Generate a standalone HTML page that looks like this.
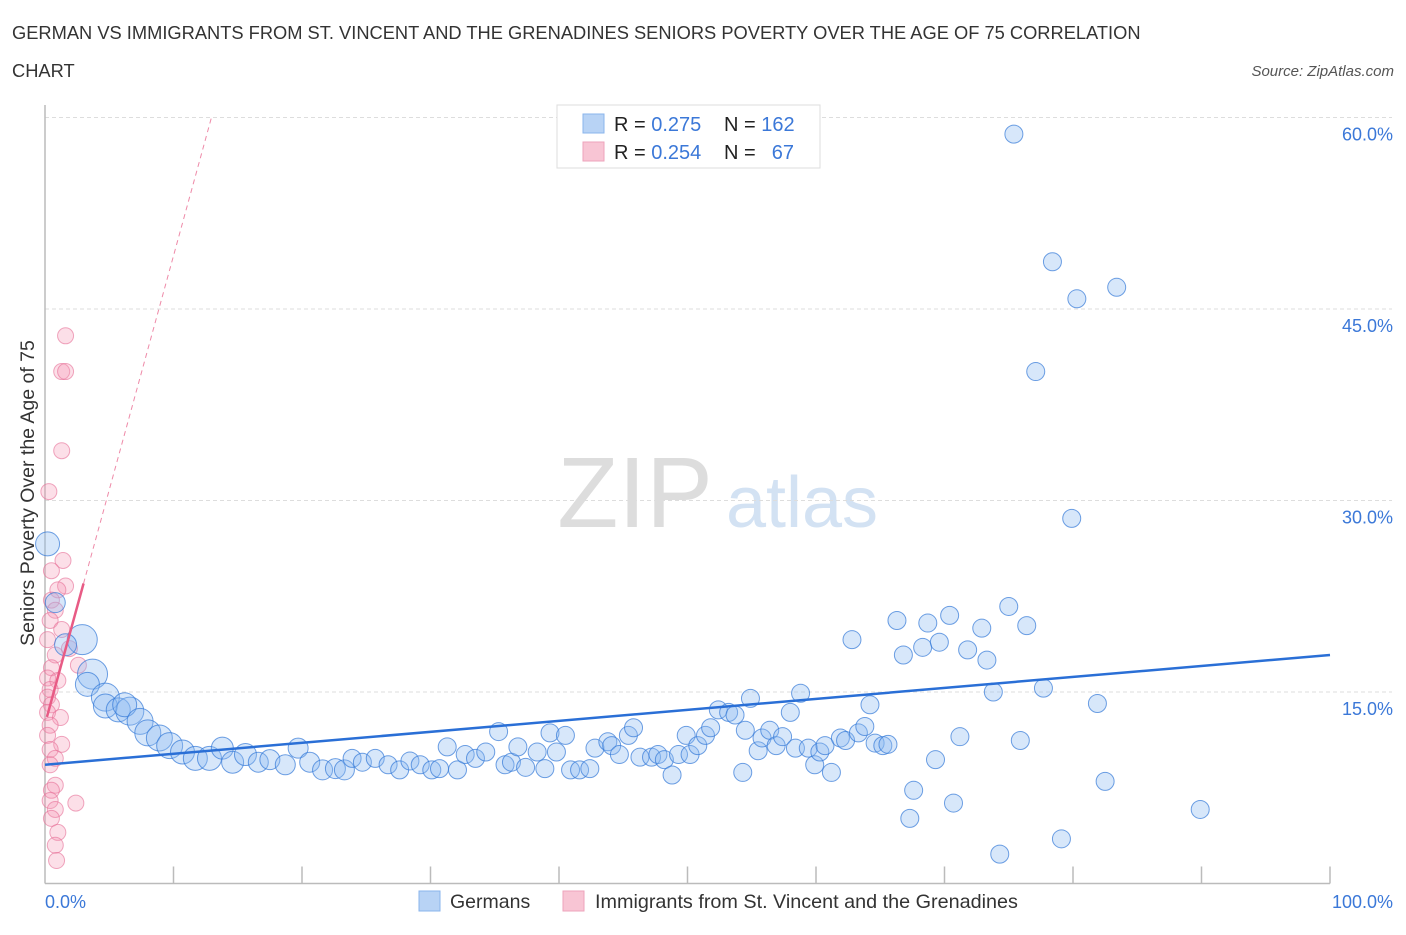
<!DOCTYPE html>
<html><head><meta charset="utf-8">
<style>
body{margin:0;background:#fff;font-family:"Liberation Sans",sans-serif;}
svg text{font-family:"Liberation Sans",sans-serif;}
</style></head>
<body>
<svg id="chart" width="1406" height="930" viewBox="0 0 1406 930">
<text x="12" y="39" font-size="18.3" fill="#333">GERMAN VS IMMIGRANTS FROM ST. VINCENT AND THE GRENADINES SENIORS POVERTY OVER THE AGE OF 75 CORRELATION</text>
<text x="12" y="77" font-size="18.3" fill="#333">CHART</text>
<text x="1394" y="76" font-size="15" fill="#555" font-style="italic" text-anchor="end">Source: ZipAtlas.com</text>
<g>
<text x="635" y="527" font-size="100" fill="#ddd" font-family="Liberation Serif" text-anchor="middle">ZIP</text>
<text x="802" y="527" font-size="72" fill="#d3e2f3" text-anchor="middle">atlas</text>
</g>
<g id="grid"></g>
<g id="axes"></g>
<g id="pink"></g>
<g id="blue"></g>
<g id="trends"></g>
<text transform="translate(34,493) rotate(-90)" font-size="19.5" fill="#333" text-anchor="middle">Seniors Poverty Over the Age of 75</text>
<g>
<rect x="557" y="105" width="263" height="63" fill="#fff" stroke="#ddd"/>
<rect x="583" y="114" width="21" height="19" fill="#b8d3f5" stroke="#8ab4ec"/>
<rect x="583" y="142" width="21" height="19" fill="#f8c5d4" stroke="#eea3bb"/>
<text x="614" y="131" font-size="20" fill="#222">R = <tspan fill="#3b78d8">0.275</tspan></text>
<text x="724" y="131" font-size="20" fill="#222">N = <tspan fill="#3b78d8">162</tspan></text>
<text x="614" y="159" font-size="20" fill="#222">R = <tspan fill="#3b78d8">0.254</tspan></text>
<text x="724" y="159" font-size="20" fill="#222">N = </text>
<text x="794" y="159" font-size="20" fill="#3b78d8" text-anchor="end">67</text>
</g>
<g>
<rect x="419" y="891" width="21" height="20" fill="#b8d3f5" stroke="#8ab4ec"/>
<text x="450" y="908" font-size="19.5" fill="#333">Germans</text>
<rect x="563" y="891" width="21" height="20" fill="#f8c5d4" stroke="#eea3bb"/>
<text x="595" y="908" font-size="19.8" fill="#333">Immigrants from St. Vincent and the Grenadines</text>
</g>
</svg>
<script>
const yTicks=[15,30,45,60];
const xTickVals=[0,10,20,30,40,50,60,70,80,90,100];
const blueX=[75.4,78.4,80.3,83.4,77.1,79.9,0.2,0.8,2.9,1.6,3.7,3.3,4.7,4.7,5.7,6.6,6.2,7.4,8.0,8.9,9.7,10.7,11.7,12.8,13.8,14.6,15.6,16.6,17.5,18.7,19.7,20.6,21.6,22.6,23.3,23.9,24.7,25.7,26.7,27.6,28.4,29.2,30.1,30.7,31.3,32.1,32.7,33.5,34.3,35.3,35.8,36.3,36.8,37.4,38.3,38.9,39.3,39.8,40.5,40.9,41.6,42.4,42.8,43.8,44.1,44.7,45.4,45.8,46.3,47.2,47.7,48.2,48.8,49.3,49.9,50.2,50.8,51.4,51.8,52.4,53.2,53.7,54.3,54.5,54.9,55.5,55.8,56.4,56.9,57.4,58.0,58.4,58.8,59.4,59.9,60.3,60.7,61.2,61.9,62.3,62.8,63.3,63.8,64.2,64.6,65.2,65.6,66.3,66.8,67.3,67.6,68.3,68.7,69.3,69.6,70.4,70.7,71.2,71.8,72.9,73.3,73.8,74.3,75.0,75.9,76.4,77.7,79.1,81.9,82.5,89.9];
const blueY=[58.7,48.7,45.8,46.7,40.1,28.6,26.6,22.0,19.1,18.7,16.4,15.6,14.6,13.9,13.6,13.5,14.0,12.7,11.8,11.4,10.8,10.3,9.8,9.8,10.6,9.5,10.1,9.5,9.7,9.3,10.6,9.5,8.9,9.0,8.9,9.8,9.5,9.8,9.3,8.9,9.6,9.3,8.9,9.0,10.7,8.9,10.1,9.8,10.3,11.9,9.3,9.5,10.7,9.1,10.3,9.0,11.8,10.3,11.6,8.9,8.9,9.0,10.6,11.1,10.8,10.1,11.6,12.2,9.9,9.9,10.1,9.7,8.5,10.1,11.6,10.1,10.8,11.6,12.2,13.6,13.4,13.2,8.7,12.0,14.5,10.4,11.4,12.0,10.8,11.5,13.4,10.6,14.9,10.6,9.3,10.3,10.8,8.7,11.4,11.2,19.1,11.8,12.3,14.0,11.0,10.8,10.9,20.6,17.9,5.1,7.3,18.5,20.4,9.7,18.9,21.0,6.3,11.5,18.3,20.0,17.5,15.0,2.3,21.7,11.2,20.2,15.3,3.5,14.1,8.0,5.8];
const blueR=[9,9,9,9,9,9,12,10,15,11,15,12,14,12,12,14,12,13,13,13,13,12,12,12,11,11,11,10,10,10,10,10,10,10,10,9,9,9,9,9,9,9,9,9,9,9,9,9,9,9,9,9,9,9,9,9,9,9,9,9,9,9,9,9,9,9,9,9,9,9,9,9,9,9,9,9,9,9,9,9,9,9,9,9,9,9,9,9,9,9,9,9,9,9,9,9,9,9,9,9,9,9,9,9,9,9,9,9,9,9,9,9,9,9,9,9,9,9,9,9,9,9,9,9,9,9,9,9,9,9,9,9];
const pinkX=[1.6,1.3,1.6,1.3,0.3,1.4,0.5,1.6,1.0,0.5,0.8,0.4,1.3,0.2,1.9,0.8,2.6,0.5,0.2,1.0,0.4,0.2,0.5,0.2,1.2,0.4,0.2,1.3,0.4,0.8,0.4,0.8,0.5,2.4,0.4,0.8,0.5,1.0,0.8,0.9];
const pinkY=[42.9,40.1,40.1,33.9,30.7,25.3,24.5,23.3,23.0,22.2,21.4,20.6,19.9,19.1,18.4,17.9,17.1,16.9,16.1,15.9,15.2,14.6,14.0,13.4,13.0,12.4,11.6,10.9,10.5,9.8,9.3,7.7,7.3,6.3,6.5,5.8,5.1,4.0,3.0,1.8];
const blueTrend=[9.3,17.9];
const pinkTrend=[12.5,23.5];
const X0=45,X1=1330,YTOP=117.5,YBOT=883.5;
function sx(v){return X0+(X1-X0)*v/100;}
function sy(v){return YBOT-(YBOT-YTOP)*v/60;}
const NS="http://www.w3.org/2000/svg";
function mk(tag,attrs,parent){const e=document.createElementNS(NS,tag);for(const k in attrs)e.setAttribute(k,attrs[k]);parent.appendChild(e);return e;}
const grid=document.getElementById('grid'),axes=document.getElementById('axes');
yTicks.forEach(t=>{
 const l=mk('line',{x1:45,x2:1392,y1:sy(t),y2:sy(t),stroke:'#ddd','stroke-dasharray':'4,3'},grid);
 
 
 const tx=mk('text',{x:1393,y:sy(t)+23,'font-size':18,fill:'#3b78d8','text-anchor':'end'},axes);
 tx.textContent=t.toFixed(1)+'%';
 
 
});
const ax=mk('line',{x1:45,x2:1330,y1:YBOT,y2:YBOT,stroke:'#bbb','stroke-width':1.5},axes);


const ay=mk('line',{x1:45,x2:45,y1:105,y2:YBOT,stroke:'#bbb','stroke-width':1.5},axes);


xTickVals.forEach(t=>{
 if(t===0)return;
 const l=mk('line',{x1:sx(t),x2:sx(t),y1:YBOT-17,y2:YBOT,stroke:'#bbb','stroke-width':1.5},axes);
 
 
});
[[0,'start',45],[100,'end',1393]].forEach(([v,a,x])=>{
 const tx=mk('text',{x:x,y:908,'font-size':18,fill:'#3b78d8','text-anchor':a},axes);
 tx.textContent=v.toFixed(1)+'%';
 
 
});
const pink=document.getElementById('pink');
pinkX.forEach((v,i)=>{
 const c=mk('circle',{cx:sx(v),cy:sy(pinkY[i]),r:8,fill:'rgba(244,150,180,0.3)',stroke:'rgba(230,110,150,0.6)','stroke-width':1},pink);
 
 
});
const blue=document.getElementById('blue');
blueX.forEach((v,i)=>{
 const c=mk('circle',{cx:sx(v),cy:sy(blueY[i]),r:blueR[i],fill:'rgba(140,185,240,0.35)',stroke:'rgba(50,120,215,0.7)','stroke-width':1},blue);
 
 
});
const tr=document.getElementById('trends');
const bl=mk('line',{x1:sx(0),y1:sy(blueTrend[0]),x2:sx(100),y2:sy(blueTrend[1]),stroke:'#2a6fd6','stroke-width':2.5},tr);


const slope=(pinkTrend[1]-pinkTrend[0])/3;
const px2=(60-pinkTrend[0])/slope;
const pd=mk('line',{x1:sx(3),y1:sy(pinkTrend[1]),x2:sx(px2),y2:sy(60),stroke:'#ee8aa8','stroke-width':1,'stroke-dasharray':'5,4'},tr);


const pl=mk('line',{x1:sx(0.15),y1:sy(pinkTrend[0]+0.15*slope),x2:sx(3),y2:sy(pinkTrend[1]),stroke:'#e85b85','stroke-width':2.5},tr);


</script>
</body></html>
